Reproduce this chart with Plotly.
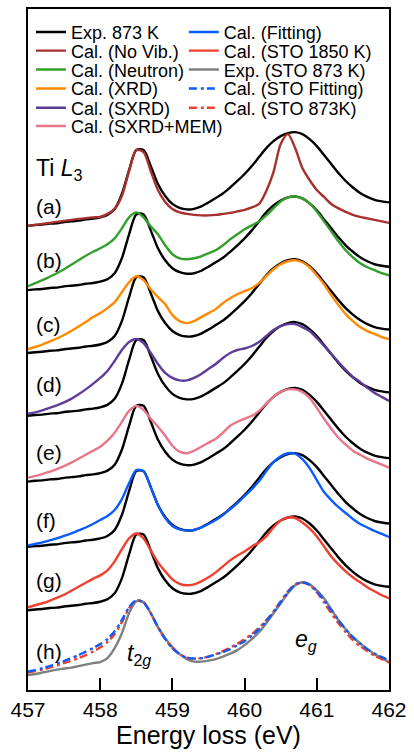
import plotly.graph_objects as go

# Energy grid (eV)
energy = [round(457.0 + 0.1 * i, 1) for i in range(51)]

# Experimental spectrum at 873 K (same in panels a-g), arbitrary units
exp_873 = [0, 0.8, 1.2, 2.2, 2.6, 3.8, 4.5, 5.2, 6.5, 7.2,
           8.5, 11, 17, 32, 56, 76, 76, 60, 42, 30,
           22, 18, 16.5, 17, 19.5, 23.5, 28, 32.5, 38.5, 45,
           52, 60, 69, 78, 85, 90, 93, 94, 92, 87,
           80, 71, 62, 53, 45, 38.5, 33, 29, 26, 24.5, 23.5]

cal_novib = [0, 1, 2, 3, 4, 5, 6, 7, 7.8, 8.5,
             9, 12, 17, 30, 55, 76, 74, 55, 36, 24,
             17, 13.5, 12, 11, 10.5, 10.5, 11, 12, 13, 14.5,
             16, 18.5, 22, 35, 54, 82, 92, 78, 58, 46,
             36, 29, 22, 17.5, 14, 11, 9, 7.5, 6, 4.5, 3]

cal_neutron = [4, 7, 10, 13.5, 17, 21, 25.5, 30, 34.5, 38.5,
               42, 46, 52, 62, 73, 78, 73, 64, 56, 45,
               36, 32, 31, 32, 34, 37, 40, 45, 51, 56,
               61, 65, 69, 75, 82, 89, 93, 94, 92, 87,
               79, 69, 59, 49, 40, 33, 27, 23, 20, 17, 15]

cal_xrd = [4, 6, 8.5, 11.5, 14.5, 18, 22, 26.5, 31, 36,
           40, 45, 51, 61, 71, 77, 73, 64, 56, 49,
           38, 32, 30, 32, 36, 40, 44, 50, 55, 59,
           62, 65, 70, 77, 84, 89, 92, 93, 91, 86,
           78, 69, 58, 48, 39, 32, 26, 22, 19, 16, 14]

cal_sxrd = [2, 3.5, 5.5, 8, 10.5, 13.5, 17, 21.5, 26.5, 32,
            38, 45, 55, 66, 74, 77, 73, 63, 52, 43,
            38, 35.5, 35.5, 38, 42, 47, 52, 58, 63, 66,
            67.5, 70, 74, 80, 86, 90, 92, 92, 89, 85,
            78, 70, 62, 54, 46, 39, 34, 28, 23, 19, 15]

cal_sxrd_mem = [4, 5.5, 7.5, 10, 12.5, 15.5, 19, 23, 27, 31,
                35, 41, 49, 60, 71, 76, 72, 63, 55, 46,
                36, 30, 28.5, 31, 35, 39, 43, 49, 56, 60,
                63, 66, 71, 78, 85, 90, 92.5, 92.5, 90, 84,
                74, 63, 53, 44, 37, 31, 27, 23, 20, 17, 14]

cal_fitting = [1.5, 3, 4.5, 6.5, 8.5, 11, 13.5, 16.5, 19.5, 23,
               27, 31, 37, 48, 64, 77, 76, 60, 42, 29,
               21, 17.5, 16.5, 17, 19.5, 23, 27, 32, 38, 44,
               51, 58, 66, 76, 85, 91, 94, 93.5, 88, 79,
               67, 55, 47, 40, 34, 28, 23, 19.5, 16, 13, 10]

cal_sto1850 = [3, 5, 7, 9.5, 12.5, 15.5, 19.5, 23.5, 27.5, 31.5,
               35, 40, 49, 61, 72, 77, 72, 60, 48, 39,
               31, 26.5, 25, 26, 29, 33, 38, 44, 50, 55,
               59, 64, 68, 74, 83, 90, 93, 92.5, 88, 82,
               74, 64, 54, 46, 39, 33, 28, 23, 19, 15, 12]

exp_sto873 = [0, 1, 2.5, 4, 5.5, 6.5, 7.5, 9, 10.5, 12,
              13, 17, 27, 42, 62, 74, 73, 62, 48, 37,
              28, 21, 16, 13.5, 13.5, 14.5, 16, 18.5, 21.5, 25,
              30, 36, 43, 52, 62, 72, 82, 90, 93, 91,
              85, 77, 66, 55, 46, 38, 32, 26, 21, 17, 13]

cal_sto_fitting = [3.5, 5, 7, 9, 11.5, 14, 17, 20, 23.5, 27,
                   31, 36, 44, 55, 68, 75, 73, 62, 48, 36,
                   27, 21, 17.5, 16.5, 17, 18.5, 20.5, 23, 26, 30,
                   34, 39.5, 46, 54, 63, 73, 83, 90.5, 93, 90.5,
                   84, 75, 65, 55, 46, 38, 31.5, 26, 21.5, 18, 15]

cal_sto873 = [2.5, 4, 5.5, 7.5, 9.5, 12, 14.5, 17, 20, 23.5,
              27.5, 33, 41, 53, 67, 75, 73, 62, 48, 36,
              27, 21, 17.5, 16.5, 17, 18.5, 21, 24, 27.5, 31.5,
              36, 41, 47.5, 55, 64, 74, 84, 91, 93, 90,
              83, 73, 62, 52, 43, 35, 29, 24, 19.5, 16, 12.5]

# Vertical offsets of the stacked panels (a)-(h)
panel_labels = ["(a)", "(b)", "(c)", "(d)", "(e)", "(f)", "(g)", "(h)"]
panel_offsets = [465.5, 401, 338, 275, 209, 143.5, 80, 15]

x_ticks = [457, 458, 459, 460, 461, 462]

FONT = "Arial, Liberation Sans, Helvetica, sans-serif"
LW = 2.4
DASH = "8px,4px,3px,3px"

# (name, values, color, panel, dash, legend id)
series = [
    ("Cal. (No Vib.)", cal_novib, "#a8302e", 0, "solid", "legend2"),
    ("Cal. (Neutron)", cal_neutron, "#33a02c", 1, "solid", "legend3"),
    ("Cal. (XRD)", cal_xrd, "#ff8a00", 2, "solid", "legend4"),
    ("Cal. (SXRD)", cal_sxrd, "#5e3c99", 3, "solid", "legend5"),
    ("Cal. (SXRD+MEM)", cal_sxrd_mem, "#e8758a", 4, "solid", "legend6"),
    ("Cal. (Fitting)", cal_fitting, "#0a5cff", 5, "solid", "legend7"),
    ("Cal. (STO 1850 K)", cal_sto1850, "#f0402e", 6, "solid", "legend8"),
    ("Exp. (STO 873 K)", exp_sto873, "#808080", 7, "solid", "legend9"),
    ("Cal. (STO 873K)", cal_sto873, "#f0402e", 7, DASH, "legend11"),
    ("Cal. (STO Fitting)", cal_sto_fitting, "#0a5cff", 7, DASH, "legend10"),
]

fig = go.Figure()

# Experimental curves (black) in panels a-g
for i in range(7):
    fig.add_trace(go.Scatter(
        x=energy, y=[v + panel_offsets[i] for v in exp_873],
        mode="lines", line=dict(color="black", width=LW, shape="spline", smoothing=0.8),
        name="Exp. 873 K", legend="legend", showlegend=(i == 0),
    ))

for name, vals, col, p, dash, leg in series:
    fig.add_trace(go.Scatter(
        x=energy, y=[v + panel_offsets[p] for v in vals],
        mode="lines",
        line=dict(color=col, width=LW, shape="spline", smoothing=0.8, dash=dash),
        name=name, legend=leg,
    ))

annotations = []
label_y = [485, 430.7, 366.7, 306.7, 238.3, 170, 110, 38.3]
for lab, ly in zip(panel_labels, label_y):
    annotations.append(dict(x=457.08, y=ly, xref="x", yref="y", text=lab, showarrow=False,
                            xanchor="left", yanchor="middle",
                            font=dict(family=FONT, size=21, color="black")))
annotations.append(dict(x=457.08, y=522, xref="x", yref="y", text="Ti <i>L</i><sub>3</sub>",
                        showarrow=False, xanchor="left", yanchor="middle",
                        font=dict(family=FONT, size=23, color="black")))
annotations.append(dict(x=458.35, y=36, xref="x", yref="y", text="<i>t</i><sub>2<i>g</i></sub>",
                        showarrow=False, xanchor="left", yanchor="middle",
                        font=dict(family=FONT, size=23, color="black")))
annotations.append(dict(x=460.67, y=50, xref="x", yref="y", text="<i>e</i><sub><i>g</i></sub>",
                        showarrow=False, xanchor="left", yanchor="middle",
                        font=dict(family=FONT, size=23, color="black")))

# Legend layout: two columns, one legend per entry so row spacing can match
row_px = [30.3, 49, 68, 87, 106.3, 124.7]
col_px = [31, 186]
legend_ids = ["legend", "legend2", "legend3", "legend4", "legend5", "legend6",
              "legend7", "legend8", "legend9", "legend10", "legend11"]
legend_layout = {}
for k, lid in enumerate(legend_ids):
    c = 0 if k < 6 else 1
    r = k if k < 6 else k - 6
    legend_layout[lid] = dict(
        x=(col_px[c] - 28) / 366, y=(690 - row_px[r]) / 683,
        xanchor="left", yanchor="middle",
        bgcolor="rgba(0,0,0,0)", borderwidth=0,
        font=dict(family=FONT, size=18, color="black"),
        itemwidth=30,
    )

fig.update_layout(
    width=414, height=752,
    margin=dict(l=28, r=20, t=7, b=62),
    paper_bgcolor="white", plot_bgcolor="white",
    font=dict(family=FONT, color="black"),
    annotations=annotations,
    xaxis=dict(range=[457, 462], tickvals=x_ticks, ticktext=[str(t) for t in x_ticks],
               ticks="inside", ticklen=12, tickwidth=1.5, tickcolor="black",
               showline=True, linecolor="black", linewidth=2, mirror=True,
               showgrid=False, zeroline=False,
               tickfont=dict(family=FONT, size=21, color="black"),
               title=dict(text="Energy loss (eV)", font=dict(family=FONT, size=25, color="black"),
                          standoff=0)),
    yaxis=dict(range=[0, 683], showticklabels=False, ticks="",
               showline=True, linecolor="black", linewidth=2, mirror=True,
               showgrid=False, zeroline=False),
    **legend_layout,
)

fig.write_html("out.html", config={"displayModeBar": False},
               post_script="document.body.style.margin='0';document.body.style.overflow='hidden';")
